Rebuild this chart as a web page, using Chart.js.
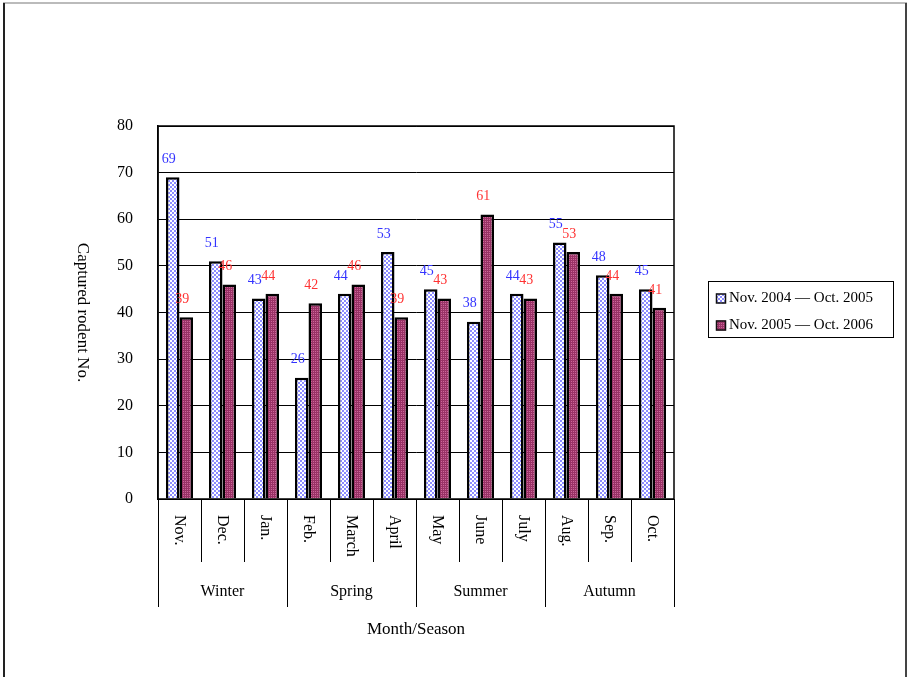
<!DOCTYPE html>
<html>
<head>
<meta charset="utf-8">
<script src="https://cdn.jsdelivr.net/npm/chart.js@4.4.1/dist/chart.umd.min.js"></script>
<style>
  html, body { margin: 0; padding: 0; background: #fff; }
  canvas { display: block; }
</style>
</head>
<body>
<canvas id="c" width="908" height="677"></canvas>
<script>
// Monthly captures of rodents over two survey years, grouped by season
const categories = ['Nov.', 'Dec.', 'Jan.', 'Feb.', 'March', 'April', 'May', 'June', 'July', 'Aug.', 'Sep.', 'Oct.'];
const seasons = ['Winter', 'Spring', 'Summer', 'Autumn'];
const monthsPerSeason = 3;
const seriesNames = ['Nov. 2004 \u2014 Oct. 2005', 'Nov. 2005 \u2014 Oct. 2006'];
const year1 = [69, 51, 43, 26, 44, 53, 45, 38, 44, 55, 48, 45];
const year2 = [39, 46, 44, 42, 46, 39, 43, 61, 43, 53, 44, 41];
const yMin = 0, yMax = 80, yStep = 10;
const labelColors = ['#3333ff', '#ff3333'];
const SERIF = '"Liberation Serif", "Times New Roman", serif';

function makePattern(size, draw) {
  const pc = document.createElement('canvas');
  pc.width = size; pc.height = size;
  const p = pc.getContext('2d');
  draw(p);
  return document.getElementById('c').getContext('2d').createPattern(pc, 'repeat');
}
// light blue checkerboard
const bluePattern = makePattern(4, p => {
  p.fillStyle = '#ffffff'; p.fillRect(0, 0, 4, 4);
  p.fillStyle = '#8c8cff';
  p.fillRect(0, 0, 2, 2); p.fillRect(2, 2, 2, 2);
});
// maroon with pink dots
const redPattern = makePattern(4, p => {
  p.fillStyle = '#993366'; p.fillRect(0, 0, 4, 4);
  p.fillStyle = '#cc6699';
  p.fillRect(1, 1, 1, 1); p.fillRect(3, 3, 1, 1);
  p.fillRect(3, 1, 1, 1); p.fillRect(1, 3, 1, 1);
});
const fills = [bluePattern, redPattern];

const decorations = {
  id: 'decorations',
  beforeDraw(chart) {
    const ctx = chart.ctx;
    ctx.save();
    ctx.fillStyle = '#ffffff';
    ctx.fillRect(0, 0, chart.width, chart.height);
    // page frame
    ctx.fillStyle = '#bbbbbb';
    ctx.fillRect(3, 2, 904, 2);
    ctx.fillStyle = '#222222';
    ctx.fillRect(3, 3, 2, 674);
    ctx.fillStyle = '#444444';
    ctx.fillRect(905, 3, 2, 674);
    ctx.restore();
  },
  afterDatasetsDraw(chart) {
    const ctx = chart.ctx;
    ctx.save();
    ctx.font = '14px ' + SERIF;
    ctx.textAlign = 'center';
    ctx.textBaseline = 'middle';
    chart.data.datasets.forEach((ds, di) => {
      const meta = chart.getDatasetMeta(di);
      ctx.fillStyle = labelColors[di];
      meta.data.forEach((el, i) => {
        ctx.fillText(String(ds.data[i]), el.x - 4, el.y - 18);
      });
    });
    ctx.restore();
  },
  afterDraw(chart) {
    const ctx = chart.ctx;
    const a = chart.chartArea;
    const x = chart.scales.x;
    ctx.save();
    ctx.strokeStyle = '#000';
    ctx.lineWidth = 1.5;
    // plot frame
    ctx.strokeRect(a.left, a.top, a.right - a.left, a.bottom - a.top);

    // category separators below the axis
    const n = categories.length;
    const step = (a.right - a.left) / n;
    ctx.lineWidth = 1;
    for (let k = 0; k <= n; k++) {
      const px = Math.round(a.left + k * step) + 0.5;
      const bottom = (k % monthsPerSeason === 0) ? a.bottom + 108 : a.bottom + 63;
      ctx.beginPath();
      ctx.moveTo(px, a.bottom);
      ctx.lineTo(px, bottom);
      ctx.stroke();
    }

    // month labels, reading top to bottom
    ctx.fillStyle = '#000';
    ctx.font = '16px ' + SERIF;
    ctx.textAlign = 'left';
    ctx.textBaseline = 'middle';
    categories.forEach((c, i) => {
      const cx = x.getPixelForValue(i);
      ctx.save();
      ctx.translate(cx, a.bottom + 16);
      ctx.rotate(Math.PI / 2);
      ctx.fillText(c, 0, 0);
      ctx.restore();
    });

    // season labels
    ctx.textAlign = 'center';
    ctx.font = '16px ' + SERIF;
    seasons.forEach((s, j) => {
      const x0 = x.getPixelForValue(j * monthsPerSeason) - step / 2;
      const x1 = x.getPixelForValue(j * monthsPerSeason + monthsPerSeason - 1) + step / 2;
      ctx.fillText(s, (x0 + x1) / 2, a.bottom + 93);
    });

    // axis titles
    ctx.font = '17px ' + SERIF;
    ctx.fillText('Month/Season', (a.left + a.right) / 2, a.bottom + 131);
    ctx.save();
    ctx.translate(82, (a.top + a.bottom) / 2);
    ctx.rotate(Math.PI / 2);
    ctx.fillText('Captured rodent No.', 0, 0);
    ctx.restore();

    // legend
    const lx = 708.5, ly = 281.5, lw = 185, lh = 56;
    ctx.lineWidth = 1;
    ctx.strokeStyle = '#000';
    ctx.strokeRect(lx, ly, lw, lh);
    ctx.font = '15px ' + SERIF;
    ctx.textAlign = 'left';
    seriesNames.forEach((name, i) => {
      const cy = ly + 17 + i * 27;
      ctx.fillStyle = fills[i];
      ctx.fillRect(716, cy - 5, 10, 10);
      ctx.lineWidth = 1.5;
      ctx.strokeStyle = '#111';
      ctx.strokeRect(716.5, cy - 4.5, 9, 9);
      ctx.fillStyle = '#000';
      ctx.fillText(name, 729, cy);
    });
    ctx.restore();
  }
};

new Chart(document.getElementById('c'), {
  type: 'bar',
  data: {
    labels: categories,
    datasets: [
      { label: seriesNames[0], data: year1, backgroundColor: bluePattern, borderColor: '#000', borderWidth: 2.5 },
      { label: seriesNames[1], data: year2, backgroundColor: redPattern, borderColor: '#000', borderWidth: 2.5 }
    ]
  },
  options: {
    responsive: false,
    animation: false,
    devicePixelRatio: 1,
    layout: { padding: { top: 126, right: 234, bottom: 178, left: 0 } },
    datasets: { bar: { categoryPercentage: 0.63, barPercentage: 1 } },
    plugins: { legend: { display: false }, tooltip: { enabled: false } },
    scales: {
      x: { display: false },
      y: {
        min: yMin, max: yMax,
        afterFit(scale) { scale.width = 158; },
        ticks: { stepSize: yStep, padding: 25, color: '#000', font: { family: SERIF, size: 16 } },
        grid: { color: '#000', lineWidth: 1, drawTicks: false },
        border: { display: true, color: '#000', width: 1.5 }
      }
    }
  },
  plugins: [decorations]
});
</script>
</body>
</html>
